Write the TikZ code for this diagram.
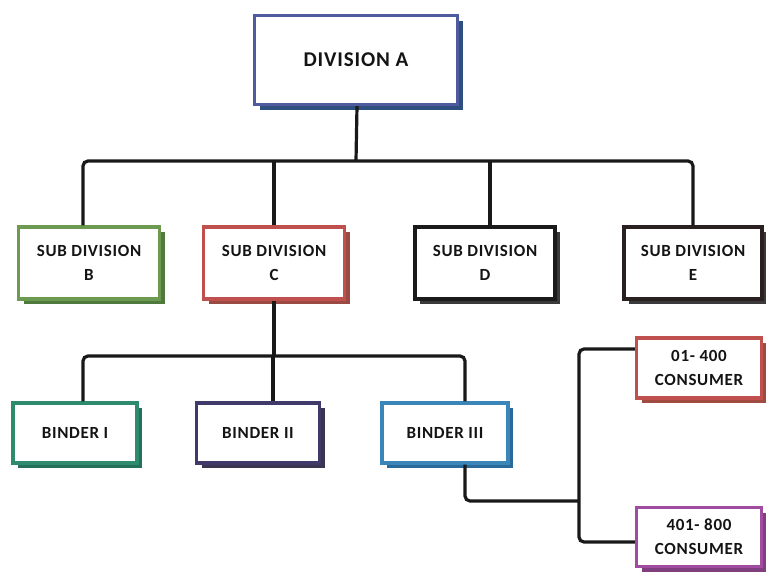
\documentclass[tikz,border=0pt]{standalone}
\usepackage{fontspec}
\setmainfont{Carlito}[LetterSpace=4]
\usetikzlibrary{shadows}
\definecolor{cA}{HTML}{4F5B9F}\definecolor{sA}{HTML}{2F4F7F}
\definecolor{cB}{HTML}{6B9A50}\definecolor{sB}{HTML}{4E7A3E}
\definecolor{cC}{HTML}{C0504D}\definecolor{sC}{HTML}{9A4A40}
\definecolor{cD}{HTML}{1A1A1A}\definecolor{sD}{HTML}{3A3A3A}
\definecolor{cE}{HTML}{2A2020}\definecolor{sE}{HTML}{3A3A3A}
\definecolor{cI}{HTML}{2E8B6E}\definecolor{sI}{HTML}{24705A}
\definecolor{cII}{HTML}{3F3A6A}\definecolor{sII}{HTML}{3A3550}
\definecolor{cIII}{HTML}{3A86B8}\definecolor{sIII}{HTML}{2A6A9A}
\definecolor{cK}{HTML}{C0504D}\definecolor{sK}{HTML}{A04A40}
\definecolor{cL}{HTML}{A04CA0}\definecolor{sL}{HTML}{804080}
\tikzset{
  box/.style 2 args={draw=#1, line width=3.2pt, fill=white, align=center,
    font=\fontsize{17}{24}\selectfont\bfseries, text=black!92, inner sep=0pt,
    general shadow={fill=#2, shadow xshift=5pt, shadow yshift=-5pt}},
  conn/.style={draw=black!90, line width=3.2pt, rounded corners=5pt}
}
\begin{document}
\begin{tikzpicture}[x=1pt,y=1pt]
\useasboundingbox (0,0) rectangle (766,-576);
\node[box={cA}{sA}, minimum width=203pt, minimum height=89pt, font=\fontsize{21}{24}\selectfont\bfseries] (A) at (356,-60) {DIVISION A};
\node[box={cB}{sB}, minimum width=141pt, minimum height=72pt] (B) at (89,-263) {SUB DIVISION\\B};
\node[box={cC}{sC}, minimum width=141pt, minimum height=72pt] (C) at (274,-263) {SUB DIVISION\\C};
\node[box={cD}{sD}, minimum width=140pt, minimum height=72pt] (D) at (485,-263) {SUB DIVISION\\D};
\node[box={cE}{sE}, minimum width=138pt, minimum height=72pt] (E) at (693,-263) {SUB DIVISION\\E};
\node[box={cI}{sI}, minimum width=124pt, minimum height=60pt] (I) at (75,-433) {BINDER I};
\node[box={cII}{sII}, minimum width=123pt, minimum height=60pt] (II) at (258,-433) {BINDER II};
\node[box={cIII}{sIII}, minimum width=126pt, minimum height=60pt] (III) at (445,-433) {BINDER III};
\node[box={cK}{sK}, minimum width=125pt, minimum height=60pt] (K) at (699,-368) {01- 400\\CONSUMER};
\node[box={cL}{sL}, minimum width=125pt, minimum height=59pt] (L) at (699,-537) {401- 800\\CONSUMER};
\coordinate (bus) at (0,-161);
\coordinate (lbus) at (0,-356);
\coordinate (jn) at (579,-501);
% top level
\draw[conn] ([xshift=-6pt]B.north) |- (bus -| E.north) -- (E.north);
\draw[conn] ([xshift=1pt]A.south) -- (A.south |- bus);
\draw[conn] (C.north) -- (C.north |- bus);
\draw[conn] ([xshift=5pt]D.north) -- ([xshift=5pt]D.north |- bus);
% binders
\draw[conn] (C.south) -- (C.south |- lbus);
\draw[conn] ([xshift=8pt]I.north) |- ([xshift=20pt]III.north |- lbus) -- ([xshift=20pt]III.north);
\draw[conn] ([xshift=15pt]II.north) -- ([xshift=15pt]II.north |- lbus);
% consumers
\draw[conn] ([xshift=20pt]III.south) |- (jn);
\draw[conn] ([yshift=19pt]K.west) -| (jn) |- ([yshift=-5pt]L.west);
\end{tikzpicture}
\end{document}
